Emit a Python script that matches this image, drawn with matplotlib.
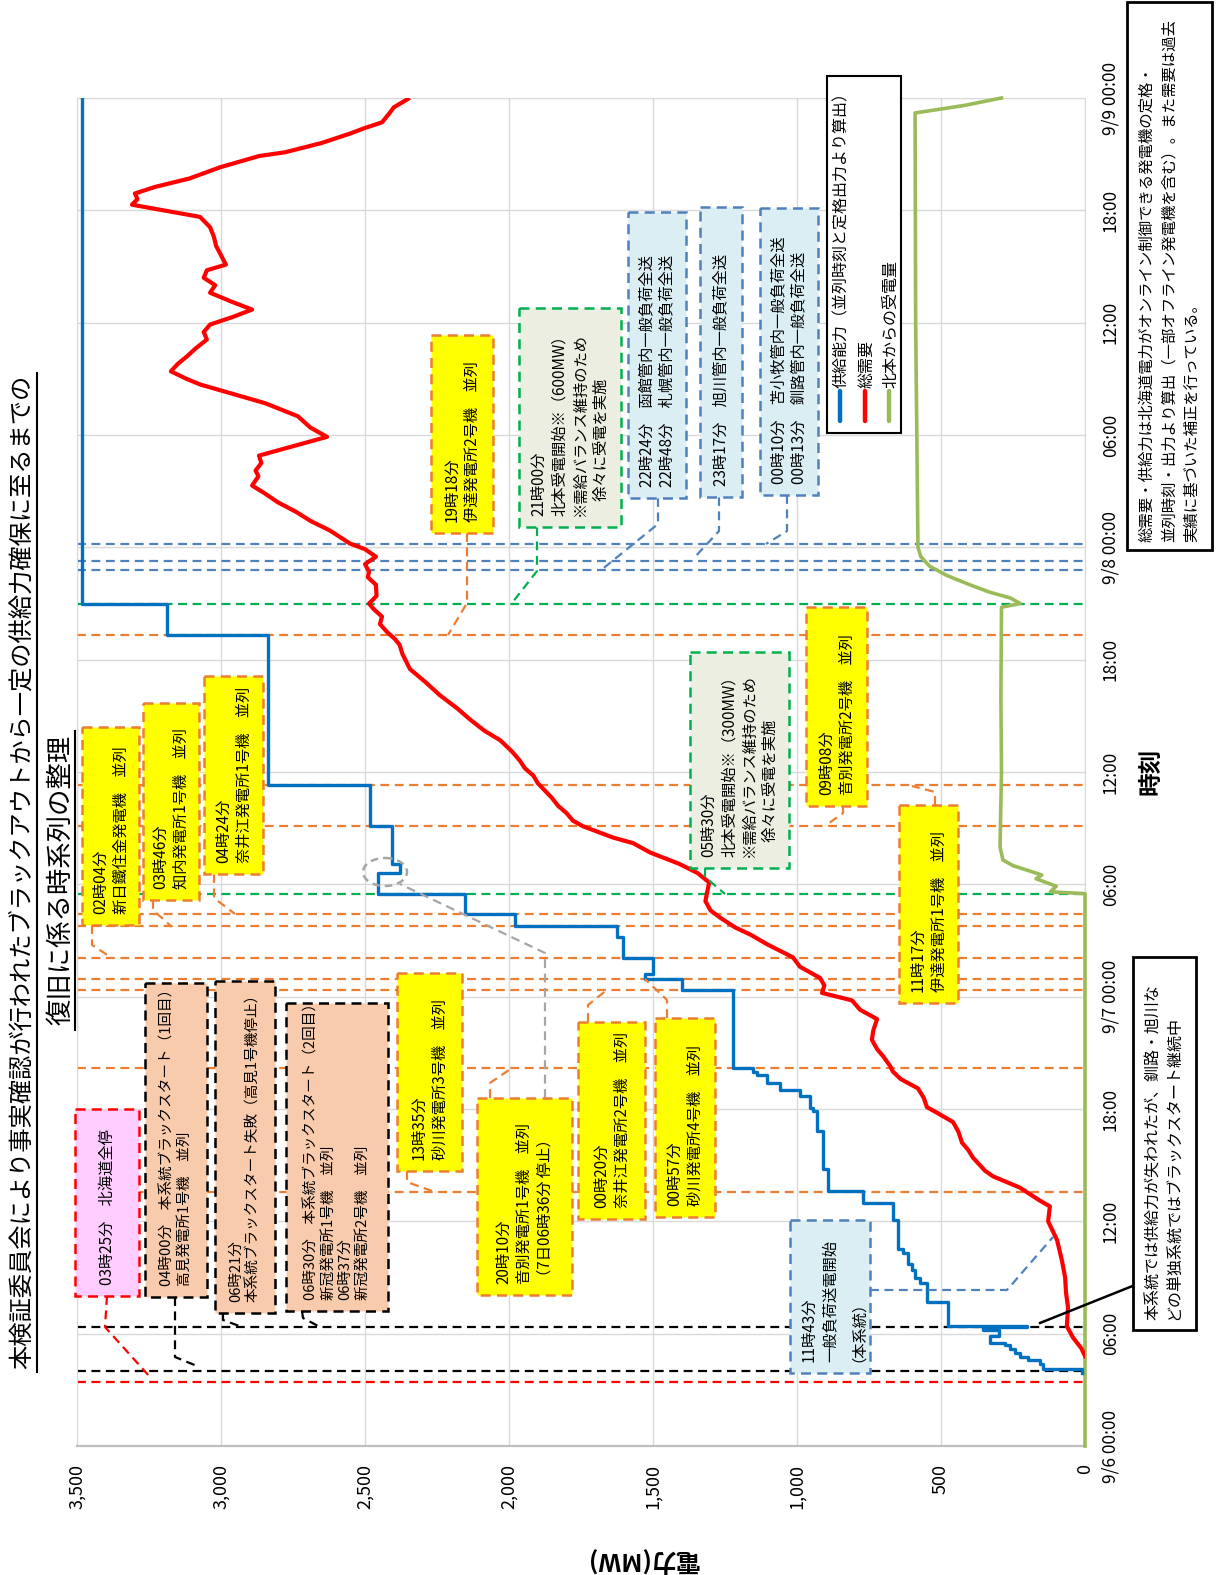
import matplotlib.pyplot as plt
from matplotlib.patches import Rectangle, Ellipse

plt.rcParams['font.family'] = ['Noto Sans CJK JP', 'DejaVu Sans']

# 供給能力 (hours from 9/6 00:00, MW) - step change points
supply_hours = [3.9, 4.1, 4.4, 4.6, 4.75, 4.95, 5.2, 5.4, 5.5, 5.9, 6.2, 6.36,
                6.42, 7.7, 8.7, 9.0, 9.4, 9.7, 10.3, 10.5, 12.05, 12.98, 13.6,
                14.8, 16.8, 17.9, 18.05, 18.7, 19.0, 19.4, 19.8, 20.0, 20.17,
                24.33, 24.95, 25.2, 26.07, 27.2, 27.77, 28.4, 29.5, 30.6, 31.1,
                33.13, 35.28, 43.3, 45.0, 72.0]
supply_mw = [10, 146, 156, 198, 226, 243, 260, 278, 330, 300, 354, 200,
             476, 549, 573, 590, 600, 615, 632, 649, 667, 771, 892,
             910, 930, 944, 955, 990, 1060, 1104, 1139, 1153, 1222,
             1399, 1528, 1500, 1604, 1625, 1979, 2153, 2455, 2378, 2406,
             2483, 2837, 3188, 3483, 3483]

# 総需要
demand_hours = [4.8, 5.2, 5.8, 6.4, 7.4, 8.2, 9.0, 9.9, 11.0, 12.0, 12.8, 13.1,
                13.8, 14.4, 14.7, 15.4, 15.8, 16.2, 16.8, 17.3, 17.8, 18.1, 18.6,
                19.1, 19.6, 20.0, 20.3, 20.8, 21.2, 21.7, 22.2, 22.8, 23.3, 23.8,
                24.2, 24.6, 25.0, 25.6, 26.1, 26.8, 27.3, 27.7, 28.2, 28.6, 29.1,
                29.5, 30.1, 30.6, 31.1, 31.7, 32.2, 32.5, 33.1, 33.4, 33.8, 34.2,
                34.6, 35.0, 35.4, 35.8, 36.2, 36.6, 37.1, 37.7, 38.2, 38.8, 39.4,
                40.1, 40.8, 41.5, 42.3, 42.8, 43.1, 43.5, 43.9, 44.3, 44.7, 45.0,
                45.4, 46.0, 46.4, 46.7, 47.1, 47.5, 47.9, 48.2, 48.9, 49.4, 49.9,
                50.4, 50.9, 51.3, 51.8, 52.1, 52.5, 52.9, 53.4, 53.9, 54.4, 55.0,
                55.7, 56.2, 56.7, 57.0, 57.4, 57.8, 58.2, 58.6, 59.1, 59.5, 59.9,
                60.3, 60.7, 61.1, 61.6, 62.0, 62.4, 62.8, 63.1, 63.6, 64.1, 64.6,
                65.1, 65.65, 66.0, 66.3, 66.6, 66.9, 67.25, 67.7, 68.3, 68.9, 69.1,
                69.6, 70.1, 70.4, 70.7, 71.15, 71.5, 71.95]
demand_mw = [0, 12, 42, 63, 59, 66, 69, 80, 97, 128, 122, 156,
             226, 319, 347, 389, 405, 427, 440, 458, 514, 549, 560,
             580, 640, 667, 677, 700, 722, 740, 735, 722, 781, 809,
             913, 905, 920, 990, 1014, 1104, 1160, 1215, 1265, 1300, 1318,
             1313, 1305, 1345, 1410, 1510, 1569, 1639, 1743, 1778, 1800, 1830,
             1850, 1875, 1900, 1915, 1945, 1962, 1990, 2031, 2085, 2135, 2180,
             2240, 2290, 2344, 2370, 2380, 2396, 2425, 2448, 2441, 2470, 2486,
             2460, 2462, 2490, 2486, 2500, 2462, 2500, 2552, 2622, 2688, 2740,
             2802, 2850, 2892, 2870, 2880, 2860, 2868, 2750, 2632, 2690, 2733,
             2847, 2960, 3073, 3120, 3174, 3150, 3118, 3090, 3049, 3060, 3038,
             2960, 2892, 2960, 3038, 3020, 3060, 3049, 2983, 3000, 3017, 3025,
             3038, 3073, 3200, 3309, 3290, 3299, 3229, 3110, 3003, 2868, 2778,
             2650, 2552, 2500, 2441, 2417, 2400, 2351]

# 北本からの受電量
import_hours = [0.0, 29.5, 29.6, 29.9, 30.3, 30.5, 31.0, 31.3, 32.0, 36.0, 40.0,
                44.8, 45.0, 45.3, 45.6, 46.0, 46.5, 47.0, 47.5, 48.0, 60.0,
                71.2, 71.6, 72.0]
import_mw = [0, 0, 120, 100, 170, 150, 250, 285, 295, 290, 292,
             290, 225, 260, 330, 400, 480, 540, 570, 580, 588,
             590, 420, 290]

# 時刻イベント
event_times = ['6 03:25', '6 04:00', '6 06:21', '6 13:35', '6 20:10', '7 00:20',
               '7 00:57', '7 02:04', '7 03:46', '7 04:24', '7 05:30', '7 09:08',
               '7 11:17', '7 19:18', '7 21:00', '7 22:48', '7 23:17', '8 00:10']
event_kinds = ['red', 'black', 'black', 'orange', 'orange', 'orange',
               'orange', 'orange', 'orange', 'orange', 'green', 'orange',
               'orange', 'orange', 'green', 'blue', 'blue', 'blue']

power_ticks = [0, 500, 1000, 1500, 2000, 2500, 3000, 3500]
time_ticks = list(range(0, 73, 6))
time_labels = ['9/6 00:00', '06:00', '12:00', '18:00', '9/7 00:00', '06:00', '12:00',
               '18:00', '9/8 00:00', '06:00', '12:00', '18:00', '9/9 00:00']

ORANGE = '#ed7d31'
GREEN = '#00b050'
BLUE = '#4f81bd'
kind_color = {'red': '#ff0000', 'black': 'black', 'orange': ORANGE,
              'green': GREEN, 'blue': BLUE}


def to_hours(s):
    day, hm = s.split()
    h, m = hm.split(':')
    return (int(day) - 6) * 24 + int(h) + int(m) / 60


W, H = 1223, 1575
fig = plt.figure(figsize=(W / 100, H / 100), dpi=100)
ax = fig.add_axes([77 / W, 1 - 1446 / H, 1008 / W, 1348 / H])
ax.set_xlim(3500, 0)
ax.set_ylim(0, 72)

ax.set_xticks(power_ticks)
ax.set_xticklabels([f'{v:,}' for v in power_ticks], rotation=90, fontsize=13)
ax.set_yticks(time_ticks)
ax.set_yticklabels(time_labels, rotation=90, va='center', fontsize=12.5)
ax.yaxis.tick_right()
ax.tick_params(axis='both', length=0)
ax.tick_params(axis='x', pad=13)
ax.tick_params(axis='y', pad=12)
ax.grid(True, color='#d9d9d9', lw=1)
ax.set_axisbelow(True)
for side, sp in ax.spines.items():
    sp.set_color('#d9d9d9')
ax.spines['bottom'].set_color('#bfbfbf')
ax.spines['bottom'].set_linewidth(1.6)

for s, k in zip(event_times, event_kinds):
    ax.axhline(to_hours(s), color=kind_color[k], lw=1.6, ls=(0, (4, 2.5)), zorder=2)

ax.plot(supply_mw, supply_hours, color='#0070c0', lw=2.4,
        drawstyle='steps-pre', zorder=5)
ax.plot(demand_mw, demand_hours, color='#ff0000', lw=3, zorder=6)
ax.plot(import_mw, import_hours, color='#9bbb59', lw=2.6, zorder=4, clip_on=False)

ax.set_xlabel('電力(MW)', rotation=180, fontsize=18, fontweight='bold')
ax.xaxis.set_label_coords(0.56, -0.075)
fig.text(1150 / W, 1 - 771 / H, '時刻', rotation=90, fontsize=17, fontweight='bold',
         ha='center', va='center')

# overlay in pixel coordinates for annotations
ov = fig.add_axes([0, 0, 1, 1])
ov.set_xlim(0, W)
ov.set_ylim(H, 0)
ov.axis('off')
ov.patch.set_alpha(0)

YELLOW = '#ffff00'
PEACH = '#f8cbad'
PINK = '#ffccff'
GRAYGREEN = '#ebeee0'
LBLUE = '#daeef3'

boxes = [
    ('03時25分　北海道全停', (75, 1109, 139, 1296), PINK, '#ff0000'),
    ('04時00分　本系統ブラックスタート（1回目）\n高見発電所1号機　並列',
     (145, 983, 207, 1297), PEACH, 'black'),
    ('06時21分\n本系統ブラックスタート失敗（高見1号機停止）',
     (215, 981, 275, 1313), PEACH, 'black'),
    ('06時30分　本系統ブラックスタート（2回目）\n新冠発電所1号機　並列\n06時37分\n新冠発電所2号機　並列',
     (286, 1003, 388, 1311), PEACH, 'black'),
    ('13時35分\n砂川発電所3号機　並列', (397, 973, 462, 1171), YELLOW, ORANGE),
    ('20時10分\n音別発電所1号機　並列\n（7日06時36分 停止）', (477, 1098, 572, 1295), YELLOW, ORANGE),
    ('00時20分\n奈井江発電所2号機　並列', (578, 1022, 645, 1219), YELLOW, ORANGE),
    ('00時57分\n砂川発電所4号機　並列', (655, 1018, 715, 1217), YELLOW, ORANGE),
    ('02時04分\n新日鐵住金発電機　並列', (82, 727, 139, 925), YELLOW, ORANGE),
    ('03時46分\n知内発電所1号機　並列', (143, 703, 199, 900), YELLOW, ORANGE),
    ('04時24分\n奈井江発電所1号機　並列', (204, 676, 263, 874), YELLOW, ORANGE),
    ('05時30分\n北本受電開始※（300MW）\n※需給バランス維持のため\n　徐々に受電を実施',
     (690, 652, 789, 868), GRAYGREEN, GREEN),
    ('09時08分\n音別発電所2号機　並列', (806, 607, 867, 806), YELLOW, ORANGE),
    ('11時17分\n伊達発電所1号機　並列', (899, 805, 958, 1003), YELLOW, ORANGE),
    ('19時18分\n伊達発電所2号機　並列', (431, 335, 493, 533), YELLOW, ORANGE),
    ('21時00分\n北本受電開始※（600MW）\n※需給バランス維持のため\n　徐々に受電を実施',
     (519, 308, 621, 527), GRAYGREEN, GREEN),
    ('22時24分　函館管内一般負荷全送\n22時48分　札幌管内一般負荷全送',
     (628, 212, 686, 498), LBLUE, BLUE),
    ('23時17分　旭川管内一般負荷全送', (700, 207, 742, 497), LBLUE, BLUE),
    ('00時10分　苫小牧管内一般負荷全送\n00時13分　釧路管内一般負荷全送',
     (760, 208, 818, 495), LBLUE, BLUE),
    ('11時43分\n一般負荷送電開始\n（本系統）', (790, 1220, 870, 1373), LBLUE, BLUE),
]

connectors = [
    ([(107, 1296), (105, 1327), (150, 1377)], '#ff0000'),
    ([(175, 1297), (175, 1357), (197, 1366)], 'black'),
    ([(223, 1313), (223, 1320), (242, 1327)], 'black'),
    ([(302, 1311), (303, 1318), (320, 1327)], 'black'),
    ([(407, 1171), (407, 1182), (432, 1191)], ORANGE),
    ([(490, 1098), (490, 1083), (512, 1068)], ORANGE),
    ([(588, 1022), (588, 1005), (608, 989)], ORANGE),
    ([(667, 1018), (667, 1000), (645, 979)], ORANGE),
    ([(92, 925), (92, 945), (112, 958)], ORANGE),
    ([(153, 900), (153, 910), (172, 927)], ORANGE),
    ([(214, 874), (214, 898), (235, 914)], ORANGE),
    ([(705, 868), (705, 877), (725, 894)], GREEN),
    ([(843, 806), (843, 813), (825, 826)], ORANGE),
    ([(935, 805), (935, 792), (912, 786)], ORANGE),
    ([(467, 533), (467, 603), (448, 635)], ORANGE),
    ([(537, 527), (537, 571), (512, 603)], GREEN),
    ([(658, 498), (658, 524), (600, 571)], BLUE),
    ([(719, 497), (719, 531), (694, 558)], BLUE),
    ([(787, 495), (787, 531), (766, 544)], BLUE),
    ([(870, 1290), (1007, 1290), (1053, 1237)], BLUE),
    ([(545, 1098), (545, 953), (400, 884)], '#a6a6a6'),
]

for pts, c in connectors:
    xs, ys = zip(*pts)
    ov.plot(xs, ys, color=c, lw=1.6, ls=(0, (4, 2.5)))

ov.add_patch(Ellipse((385, 872), 44, 28, fill=False, ec='#a6a6a6', lw=1.8,
                     ls=(0, (3, 2))))

for text, (x0, y0, x1, y1), fc, ec in boxes:
    ov.add_patch(Rectangle((x0, y0), x1 - x0, y1 - y0, fc=fc, ec=ec, lw=1.8,
                           ls=(0, (4, 2.5)), zorder=3))
    size = 10.5 if fc == PEACH else 11
    ov.text((x0 + x1) / 2, y1 - 11, text, rotation=90, ha='center', va='bottom',
            multialignment='left', fontsize=size, linespacing=1.28, zorder=4)

# legend
ov.add_patch(Rectangle((827, 76), 74, 357, fc='white', ec='black', lw=1.5, zorder=3))
legend_items = [('供給能力（並列時刻と定格出力より算出）', '#0070c0'),
                ('総需要', '#ff0000'), ('北本からの受電量', '#9bbb59')]
for i, (lab, c) in enumerate(legend_items):
    x = 840 + i * 24.5
    ov.plot([x, x], [421, 391], color=c, lw=3.2, solid_capstyle='round', zorder=4)
    ov.text(x + 2, 388, lab, rotation=90, ha='center', va='bottom', fontsize=11.5, zorder=4)

# notes
ov.add_patch(Rectangle((1127, 2), 85, 548, fc='white', ec='black', lw=2, zorder=3))
ov.text(1169, 542,
        '総需要・供給力は北海道電力がオンライン制御できる発電機の定格・\n'
        '並列時刻・出力より算出（一部オフライン発電機を含む）。また需要は過去\n'
        '実績に基づいた補正を行っている。',
        rotation=90, ha='center', va='bottom', multialignment='left',
        fontsize=11.1, linespacing=1.4, zorder=4)

ov.plot([1135, 1040], [1285, 1323], color='black', lw=1.8)
ov.add_patch(Rectangle((1133, 957), 63, 373, fc='white', ec='black', lw=2, zorder=3))
ov.text(1164, 1320,
        '本系統では供給力が失われたが、釧路・旭川な\nどの単独系統ではブラックスタート継続中',
        rotation=90, ha='center', va='bottom', multialignment='left',
        fontsize=11.5, linespacing=1.35, zorder=4)

# title
ov.text(22, 872, '本検証委員会により事実確認が行われたブラックアウトから一定の供給力確保に至るまでの',
        rotation=90, ha='center', va='center', fontsize=17.5)
ov.plot([37, 37], [373, 1372], color='black', lw=1.5)
ov.text(61, 880, '復旧に係る時系列の整理', rotation=90, ha='center', va='center', fontsize=19)
ov.plot([75, 75], [731, 1030], color='black', lw=1.5)

fig.savefig('out.png', dpi=100)
